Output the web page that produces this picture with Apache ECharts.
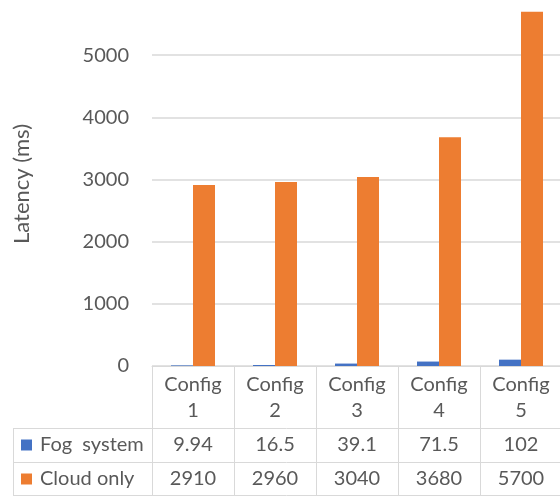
<!DOCTYPE html>
<html>
<head>
<meta charset="utf-8">
<script src="https://cdn.jsdelivr.net/npm/echarts@6/dist/echarts.min.js"></script>
<style>
  html, body { margin: 0; padding: 0; background: #fff; }
  #chart { width: 560px; height: 496px; }
</style>
</head>
<body>
<div id="chart"></div>
<script>
  // data
  const configs = ['Config\n1', 'Config\n2', 'Config\n3', 'Config\n4', 'Config\n5']
  const fogSystem = [9.94, 16.5, 39.1, 71.5, 102]
  const cloudOnly = [2910, 2960, 3040, 3680, 5700]
  const yTicks = [0, 1000, 2000, 3000, 4000, 5000, 6000]

  const font = 'Lato'
  const textColor = '#595959'
  const lineColor = '#d9d9d9'

  // layout (pixels)
  const gridLeft = 152
  const gridRight = -2
  const gridTop = -7
  const gridBottom = 130
  const W = 560, H = 496
  const zeroY = H - gridBottom
  const headerH = 62
  const rowH = 34
  const tableLeft = 13
  const colW = (W - gridRight - gridLeft) / configs.length

  const myChart = echarts.init(document.getElementById('chart'))

  // table lines
  const lines = []
  for (let i = 0; i <= configs.length; i++) {
    const x = Math.round(gridLeft + i * colW) + 0.5
    lines.push({ type: 'line', shape: { x1: x, y1: zeroY, x2: x, y2: H }, style: { stroke: lineColor, lineWidth: 1 } })
  }
  const rowTops = [zeroY + headerH, zeroY + headerH + rowH, zeroY + headerH + 2 * rowH - 1]
  rowTops.forEach(y => {
    lines.push({ type: 'line', shape: { x1: tableLeft, y1: y + 0.5, x2: W, y2: y + 0.5 }, style: { stroke: lineColor, lineWidth: 1 } })
  })
  lines.push({ type: 'line', shape: { x1: tableLeft + 0.5, y1: zeroY + headerH, x2: tableLeft + 0.5, y2: H }, style: { stroke: lineColor, lineWidth: 1 } })

  const rowAxis = (vals, offset) => ({
    type: 'category',
    gridIndex: 0,
    position: 'bottom',
    offset: offset,
    data: vals.map(String),
    axisLine: { show: false },
    axisTick: { show: false },
    axisLabel: { color: textColor, fontFamily: font, fontSize: 20, lineHeight: 20, margin: 7 }
  })

  const option = {
    animation: false,
    grid: { left: gridLeft, right: gridRight, top: gridTop, bottom: gridBottom, outerBoundsMode: 'none', containLabel: false },
    legend: {
      orient: 'vertical',
      left: 21,
      top: zeroY + headerH + 7,
      padding: 0,
      itemWidth: 11,
      itemHeight: 11,
      itemGap: 14,
      icon: 'rect',
      data: ['Fog  system', 'Cloud only'],
      textStyle: { color: textColor, fontFamily: font, fontSize: 20, lineHeight: 20, padding: [0, 0, 0, 3] }
    },
    xAxis: [{
        type: 'category',
        data: configs,
        axisLine: { show: true, lineStyle: { color: lineColor } },
        axisTick: { show: false },
        axisLabel: { color: textColor, fontFamily: font, fontSize: 20, lineHeight: 26, margin: 6 }
      },
      rowAxis(fogSystem, headerH),
      rowAxis(cloudOnly, headerH + rowH)
    ],
    yAxis: {
      type: 'value',
      min: yTicks[0],
      max: yTicks[yTicks.length - 1],
      interval: 1000,
      name: 'Latency (ms)',
      nameLocation: 'middle',
      nameRotate: 90,
      nameGap: 119,
      nameTextStyle: { color: textColor, fontFamily: font, fontSize: 22, padding: [0, 9, 0, 0] },
      axisLine: { show: false },
      axisTick: { show: false },
      axisLabel: { color: textColor, fontFamily: font, fontSize: 20, margin: 23, formatter: v => String(v) },
      splitLine: { lineStyle: { color: lineColor, width: 1.5 } }
    },
    series: [{
        name: 'Fog  system',
        type: 'bar',
        barWidth: 22,
        barGap: 0,
        itemStyle: { color: '#4472C4' },
        data: fogSystem
      },
      {
        name: 'Cloud only',
        type: 'bar',
        barWidth: 22,
        barGap: 0,
        itemStyle: { color: '#ED7D31' },
        data: cloudOnly
      }
    ],
    graphic: lines
  }
  myChart.setOption(option)
</script>
</body>
</html>
